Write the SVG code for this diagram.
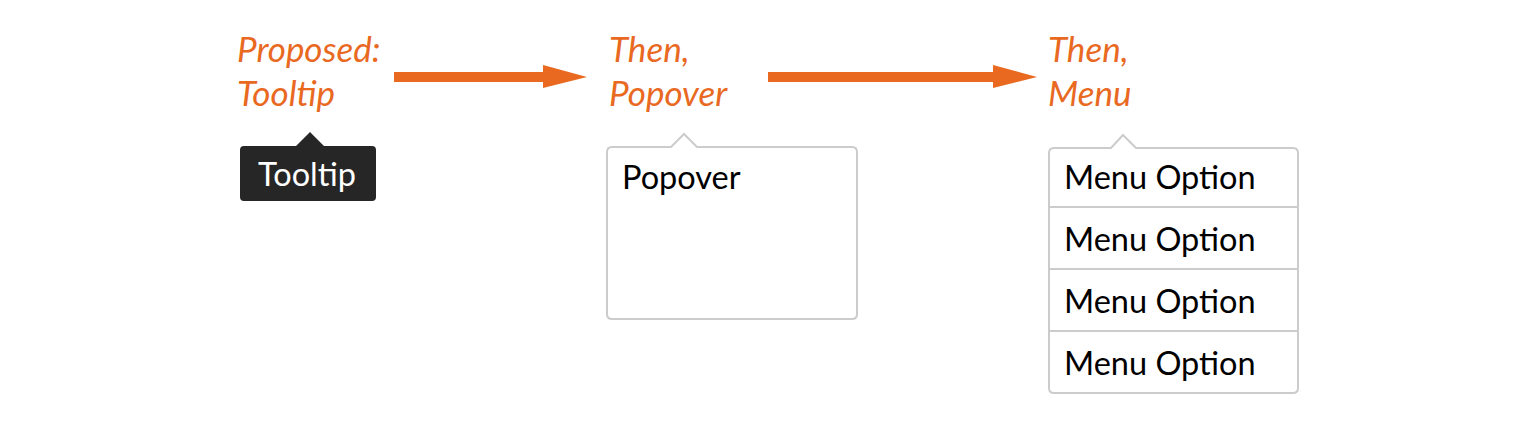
<svg xmlns="http://www.w3.org/2000/svg" width="1536" height="430" viewBox="0 0 1536 430">
<style>
.lbl{font-family:Lato,"Liberation Sans",sans-serif;font-style:italic;font-size:35px;fill:#E8691F}
.txt{font-family:Lato,"Liberation Sans",sans-serif;font-size:32.5px;fill:#000}
.box{fill:#fff;stroke:#cccccc;stroke-width:2}
.div{stroke:#cccccc;stroke-width:2}
.arrow{fill:#E8691F}
</style>
<rect width="1536" height="430" fill="#fff"/>
<g id="connectors">
<path class="arrow" d="M394 72 H543 V65 L587 77 L543 88 V82 H394 Z"/>
<path class="arrow" d="M768 72 H993 V65 L1037 77 L993 88 V82 H768 Z"/>
</g>
<g id="tooltip">
<text class="lbl" x="237" y="62">Proposed:</text>
<text class="lbl" x="237" y="106">Tooltip</text>
<path d="M244 146 H296 L310 132 L324 146 H372 Q376 146 376 150 V197 Q376 201 372 201 H244 Q240 201 240 197 V150 Q240 146 244 146 Z" fill="#262626"/>
<text x="258" y="186" style="font-family:Lato,'Liberation Sans',sans-serif;font-size:32.5px;fill:#fff">Tooltip</text>
</g>
<g id="popover">
<text class="lbl" x="609" y="62">Then,</text>
<text class="lbl" x="609" y="106">Popover</text>
<path class="box" d="M612 147 H671 L684 134 L697 147 H852 Q857 147 857 152 V314 Q857 319 852 319 H612 Q607 319 607 314 V152 Q607 147 612 147 Z"/>
<text class="txt" x="622" y="189">Popover</text>
</g>
<g id="menu">
<text class="lbl" x="1048" y="62">Then,</text>
<text class="lbl" x="1048" y="106">Menu</text>
<path class="box" d="M1054 148 H1111 L1123 135 L1136 148 H1293 Q1298 148 1298 153 V388 Q1298 393 1293 393 H1054 Q1049 393 1049 388 V153 Q1049 148 1054 148 Z"/>
<line class="div" x1="1049" y1="207" x2="1298" y2="207"/>
<line class="div" x1="1049" y1="269" x2="1298" y2="269"/>
<line class="div" x1="1049" y1="331" x2="1298" y2="331"/>
<text class="txt" x="1064" y="189">Menu Option</text>
<text class="txt" x="1064" y="251">Menu Option</text>
<text class="txt" x="1064" y="313">Menu Option</text>
<text class="txt" x="1064" y="375">Menu Option</text>
</g>
</svg>
